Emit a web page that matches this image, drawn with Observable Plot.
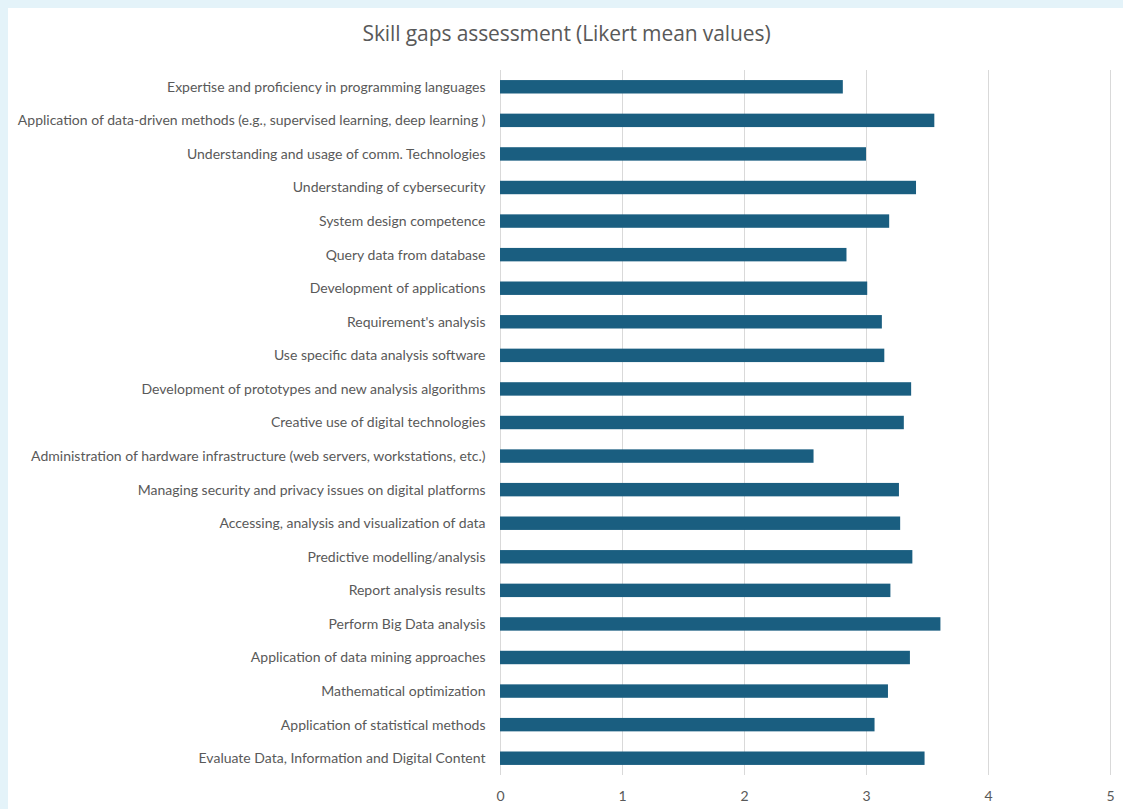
<!DOCTYPE html>
<html>
<head>
<meta charset="utf-8">
<script src="https://cdn.jsdelivr.net/npm/d3@7"></script>
<script src="https://cdn.jsdelivr.net/npm/@observablehq/plot@0.6"></script>
<style>
  html, body { margin: 0; padding: 0; }
  body { width: 1123px; height: 809px; background: #e4f3f9; position: relative; overflow: hidden; font-family: Lato, "Open Sans", sans-serif; }
  #panel { position: absolute; left: 8px; top: 8px; width: 1115px; height: 801px; background: #fff; }
  #title { position: absolute; left: 0; top: 19px; width: 1133px; text-align: center; font-size: 21px; color: #595959; font-family: "Open Sans", sans-serif; letter-spacing: -0.1px; }
  #chart { position: absolute; left: 0; top: 55px; }
</style>
</head>
<body>
<div id="panel"></div>
<div id="title">Skill gaps assessment (Likert mean values)</div>
<div id="chart"></div>
<script>
const skills = [
  "Expertise and proficiency in programming languages",
  "Application of data-driven methods (e.g., supervised learning, deep learning )",
  "Understanding and usage of comm. Technologies",
  "Understanding of cybersecurity",
  "System design competence",
  "Query data from database",
  "Development of applications",
  "Requirement's analysis",
  "Use specific data analysis software",
  "Development of prototypes and new analysis algorithms",
  "Creative use of digital technologies",
  "Administration of hardware infrastructure (web servers, workstations, etc.)",
  "Managing security and privacy issues on digital platforms",
  "Accessing, analysis and visualization of data",
  "Predictive modelling/analysis",
  "Report analysis results",
  "Perform Big Data analysis",
  "Application of data mining approaches",
  "Mathematical optimization",
  "Application of statistical methods",
  "Evaluate Data, Information and Digital Content"
];
const meanValues = [2.81, 3.56, 3.00, 3.41, 3.19, 2.84, 3.01, 3.13, 3.15, 3.37, 3.31, 2.57, 3.27, 3.28, 3.38, 3.20, 3.61, 3.36, 3.18, 3.07, 3.48];
const xTicks = [0, 1, 2, 3, 4, 5];

const data = skills.map((s, i) => ({skill: s, value: meanValues[i]}));

const chart = Plot.plot({
  width: 1123,
  height: 754,
  marginLeft: 500,
  marginRight: 13,
  marginTop: 15,
  marginBottom: 34,
  style: {fontFamily: "Lato, 'Open Sans', sans-serif", fontSize: "14px", color: "#595959", background: "transparent"},
  x: {domain: [0, 5], ticks: xTicks, label: null},
  y: {domain: skills, paddingInner: 0.6, paddingOuter: 0.3, round: false, label: null},
  marks: [
    Plot.gridX(xTicks, {stroke: "#d9d9d9", strokeOpacity: 1, strokeWidth: 1}),
    Plot.barX(data, {x: "value", y: "skill", fill: "#1a5e80"}),
    Plot.axisY({tickSize: 0, tickPadding: 15, fontSize: 14, fill: "#595959"}),
    Plot.axisX(xTicks, {tickSize: 0, tickPadding: 16, fontSize: 14, fill: "#595959", label: null, tickFormat: d => String(d)})
  ]
});
document.getElementById("chart").appendChild(chart);
</script>
</body>
</html>
